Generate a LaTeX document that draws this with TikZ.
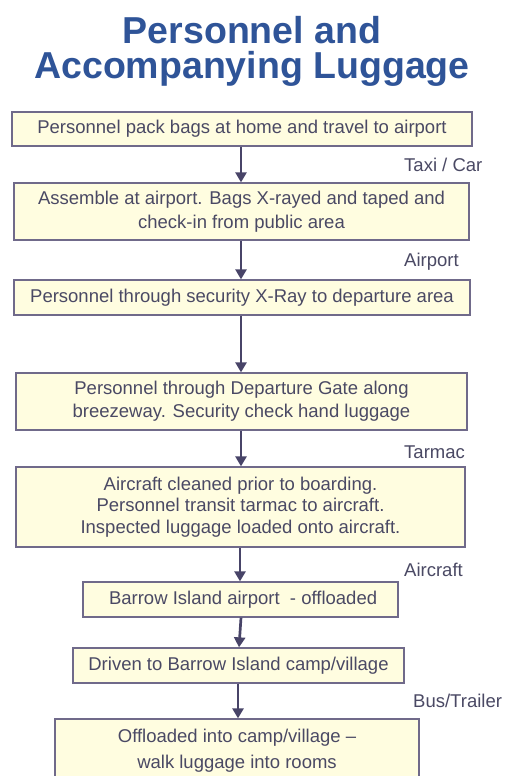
\documentclass[tikz,border=0pt]{standalone}
\usepackage{fontspec}
\setmainfont{Liberation Sans}
\usetikzlibrary{arrows.meta}
\definecolor{titleblue}{RGB}{47,84,152}
\definecolor{boxfill}{RGB}{255,253,224}
\definecolor{boxline}{RGB}{112,106,138}
\definecolor{inkgray}{RGB}{74,73,100}
\definecolor{arrowink}{RGB}{72,68,104}
\tikzset{
  stepbox/.style={draw=boxline, line width=1.3pt, fill=boxfill, rectangle,
    inner sep=0pt, align=center, text=inkgray,
    font=\fontsize{18.5}{23}\selectfont},
  flow/.style={draw=arrowink, line width=2.7pt,
    -{Triangle[width=11pt,length=10pt]}},
  mode/.style={anchor=west, text=inkgray, inner sep=0pt,
    font=\fontsize{18.5}{22}\selectfont}
}
\begin{document}
\begin{tikzpicture}[x=1pt,y=-1pt]
\useasboundingbox (0,0) rectangle (505,776);
\clip (0,0) rectangle (505,776);
\fill[white] (0,0) rectangle (505,776);

% heading
\node[text=titleblue, align=center, inner sep=0pt,
      font=\fontsize{37.5}{35}\bfseries\selectfont] (title) at (252,51)
  {Personnel and\\Accompanying Luggage};

% process steps
\node[stepbox, minimum width=460pt, minimum height=34pt] (b1) at (242,129)
  {Personnel pack bags at home and travel to airport};
\node[stepbox, minimum width=455pt, minimum height=57pt,
      font=\fontsize{18.5}{24}\selectfont] (b2) at (241.5,211.5)
  {Assemble at airport. Bags X-rayed and taped and\\check-in from public area};
\node[stepbox, minimum width=456pt, minimum height=35pt] (b3) at (242,297.5)
  {Personnel through security X-Ray to departure area};
\node[stepbox, minimum width=451pt, minimum height=57pt] (b4) at (241.5,401.5)
  {Personnel through Departure Gate along\\breezeway. Security check hand luggage};
\node[stepbox, minimum width=449pt, minimum height=80pt,
      font=\fontsize{18.5}{21.5}\selectfont] (b5) at (240.5,507)
  {Aircraft cleaned prior to boarding.\\Personnel transit tarmac to aircraft.\\Inspected luggage loaded onto aircraft.};
\node[stepbox, minimum width=315pt, minimum height=35pt] (b6) at (240.5,599.5)
  {\ Barrow Island airport \ - offloaded};
\node[stepbox, minimum width=331pt, minimum height=35pt] (b7) at (238.5,665.5)
  {Driven to Barrow Island camp/village};
\node[stepbox, minimum width=364pt, minimum height=64pt,
      font=\fontsize{18.5}{26}\selectfont] (b8) at (237,751)
  {Offloaded into camp/village --\\walk luggage into rooms};

% arrow columns
\coordinate (c1) at (241,0);
\coordinate (c2) at (240,0);
\coordinate (c3) at (239,0);
\coordinate (c4) at (238,0);

% connectors
\draw[flow] (b1.south -| c1) -- (b2.north -| c1);
\draw[flow] (b2.south -| c1) -- (b3.north -| c1);
\draw[flow] (b3.south -| c1) -- (b4.north -| c1);
\draw[flow] (b4.south -| c1) -- (b5.north -| c1);
\draw[flow] (b5.south -| c2) -- (b6.north -| c2);
\draw[flow] (b6.south -| c1) -- (b7.north -| c3);
\draw[flow] (b7.south -| c4) -- (b8.north -| c4);

% transport labels
\node[mode] (m1) at (404,165) {Taxi / Car};
\node[mode] (m2) at (404,262) {Airport};
\node[mode] (m3) at (404,452) {Tarmac};
\node[mode] (m4) at (404,570) {Aircraft};
\node[mode] (m5) at (413,701) {Bus/Trailer};
\end{tikzpicture}
\end{document}
